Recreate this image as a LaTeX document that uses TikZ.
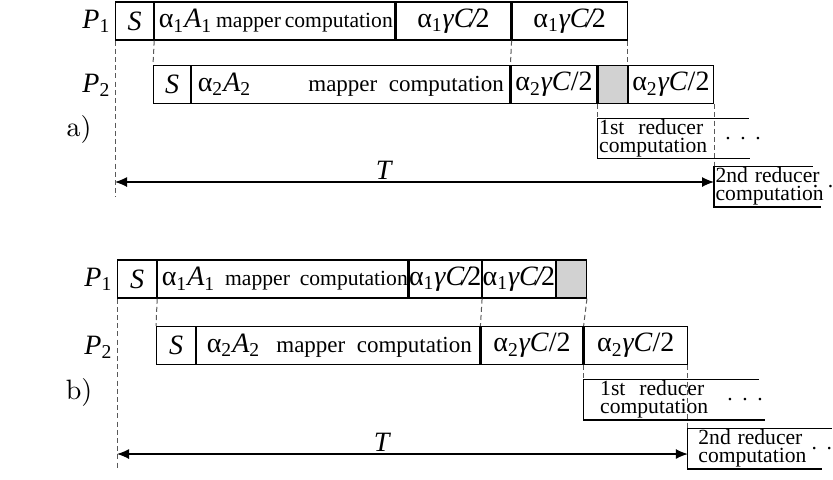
\documentclass[tikz,border=0pt]{standalone}
\usepackage{fontspec}
\setmainfont{Liberation Serif}
\newfontfamily\lmfont{lmroman10-regular.otf}
\usetikzlibrary{arrows.meta,positioning}

\newcommand{\bigf}{\fontsize{14}{16}\selectfont}
\newcommand{\smallf}{\fontsize{10.8}{9}\selectfont}
\newcommand{\alp}[1]{α\textsubscript{#1}}

\begin{document}
\begin{tikzpicture}[x=0.5pt, y=-0.5pt, line width=0.6pt,
  cell/.style={draw, minimum height=19pt, inner sep=0pt, font=\bigf},
  wait/.style={draw, fill=gray!35, minimum height=19pt, inner sep=0pt},
  lbl/.style={font=\bigf, inner sep=1pt},
  red/.style={font=\smallf, align=left, text width=52pt, minimum height=18.5pt, inner ysep=0.5pt},
  dotsn/.style={font=\smallf, inner sep=0pt, anchor=west},
  guide/.style={dash pattern=on 2.5pt off 1.6pt, line width=0.5pt, black!65},
  >={Latex[length=6pt,width=5pt]}, node distance=0pt]
\useasboundingbox (0,0) rectangle (833,479);

% a)
\node[cell, minimum width=19pt, anchor=west] (s1a) at (115,21) {\textit{S}};
\node[cell, right=of s1a] (m1a) {\makebox[120pt]{\hspace{2pt}\alp{1}\textit{A}\textsubscript{1}\hfill{\smallf mapper\hfill computation}\hspace{1pt}}};
\node[cell, right=of m1a, minimum width=57.5pt] (c1a) {\alp{1}\textit{γC\kern-0.08em/\kern-0.08em}2};
\node[cell, right=of c1a, minimum width=57.5pt] (d1a) {\alp{1}\textit{γC\kern-0.08em/\kern-0.08em}2};
\node[cell, minimum width=18.5pt, anchor=west] (s2a) at (153,84.5) {\textit{S}};
\node[cell, right=of s2a] (m2a) {\makebox[159pt]{\hspace{3pt}\alp{2}\textit{A}\textsubscript{2}\hfill{\fontsize{11.5}{12}\selectfont mapper\ \ computation}\hspace{3pt}}};
\node[cell, right=of m2a, minimum width=43pt] (c2a) {\alp{2}\textit{γC}/2};
\node[wait, right=of c2a, minimum width=14.5pt] (w2a) {};
\node[cell, right=of w2a, minimum width=42.5pt] (d2a) {\alp{2}\textit{γC}/2};
\node[lbl, left=1pt of s1a] (p1a) {\textit{P}\textsubscript{1}};
\node[lbl, anchor=east] (p2a) at (113,85) {\textit{P}\textsubscript{2}};
\node[font=\lmfont\fontsize{14}{16}\selectfont] (la) at (79,129) {a)};
\node[red, below right=7pt and 0pt of w2a.south west, inner xsep=0.5pt] (r1a) {1st\hfill reducer\\computation};
\node[red, below right=31pt and 0pt of d2a.south east, inner xsep=0.5pt] (r2a) {2nd\hfill reducer\\computation};
\node[dotsn, right=10pt of r1a] (e1a) {.\hspace{4.8pt}.\hspace{4.8pt}.};
\node[dotsn, right=-4.5pt of r2a] (e2a) {.\hspace{4.8pt}.};
\coordinate (Ta) at (0,182);
\draw (r1a.north east) -- ++(22pt,0) -- (r1a.north west) -- (r1a.south west) -- ++(76pt,0);
\draw (r2a.north west) -- ++(49.5pt,0);
\draw (r2a.north west) -- (r2a.south west) -- ++(53.5pt,0);
\draw[<->] (s1a.west |- Ta) -- node[lbl, pos=0.45, above] {\textit{T}} (d2a.east |- Ta);
\draw[guide] (s1a.south west) -- ([yshift=-7.5pt]s1a.west |- Ta);
\draw[guide] (s1a.south east) -- (s2a.north west);
\draw[guide] (c1a.south east) -- (c2a.north west);
\draw[guide] (d1a.south east) -- (w2a.north east);
\draw[guide] (w2a.south west) -- (r1a.north west);
\draw[guide] (d2a.south east) -- (r2a.north west);

% b)
\node[cell, minimum width=19.5pt, anchor=west] (s1b) at (117,279) {\textit{S}};
\node[cell, right=of s1b] (m1b) {\makebox[125pt]{\hspace{2pt}\alp{1}\textit{A}\textsubscript{1}\hfill{\smallf mapper\hfill computation}}};
\node[cell, right=of m1b, minimum width=36pt] (c1b) {\alp{1}\textit{γC\kern-0.08em/\kern-0.08em}2};
\node[cell, right=of c1b, minimum width=36pt] (d1b) {\alp{1}\textit{γC\kern-0.08em/\kern-0.08em}2};
\node[wait, right=of d1b, minimum width=15pt] (w1b) {};
\node[cell, minimum width=19.5pt, anchor=west] (s2b) at (156,345.5) {\textit{S}};
\node[cell, right=of s2b] (m2b) {\makebox[141.5pt]{\hspace{5pt}\alp{2}\textit{A}\textsubscript{2}\hfill{\fontsize{11.5}{12}\selectfont mapper\ \ computation}\hspace{4pt}}};
\node[cell, right=of m2b, minimum width=51pt] (c2b) {\alp{2}\textit{γC}/2};
\node[cell, right=of c2b, minimum width=51.5pt] (d2b) {\alp{2}\textit{γC}/2};
\node[lbl, left=1pt of s1b] (p1b) {\textit{P}\textsubscript{1}};
\node[lbl, anchor=east] (p2b) at (115,347) {\textit{P}\textsubscript{2}};
\node[font=\lmfont\fontsize{14}{16}\selectfont] (lb) at (79,392) {b)};
\node[red, below right=7pt and 0pt of c2b.south east, inner xsep=8pt] (r1b) {1st\hfill reducer\\computation};
\node[red, below right=31.5pt and 0pt of d2b.south east, inner xsep=5pt] (r2b) {2nd\hfill reducer\\computation};
\node[dotsn, right=3pt of r1b] (e1b) {.\hspace{4.8pt}.\hspace{4.8pt}.};
\node[dotsn, right=-1pt of r2b] (e2b) {.\hspace{4.8pt}.};
\coordinate (Tb) at (0,454);
\draw (r1b.north east) -- ++(19pt,0) -- (r1b.north west) -- (r1b.south west) -- ++(90.5pt,0);
\draw (r2b.north west) -- ++(72pt,0);
\draw (r2b.north west) -- (r2b.south west) -- ++(67pt,0);
\draw[<->] (s1b.west |- Tb) -- node[lbl, pos=0.465, above] {\textit{T}} (d2b.east |- Tb);
\draw[guide] (s1b.south west) -- ([yshift=-8pt]s1b.west |- Tb);
\draw[guide] (s1b.south east) -- (s2b.north west);
\draw[guide] (c1b.south east) -- (c2b.north west);
\draw[guide] (w1b.south east) -- (d2b.north west);
\draw[guide] (c2b.south east) -- (r1b.north west);
\draw[guide] (d2b.south east) -- (r2b.north west);
\end{tikzpicture}
\end{document}
